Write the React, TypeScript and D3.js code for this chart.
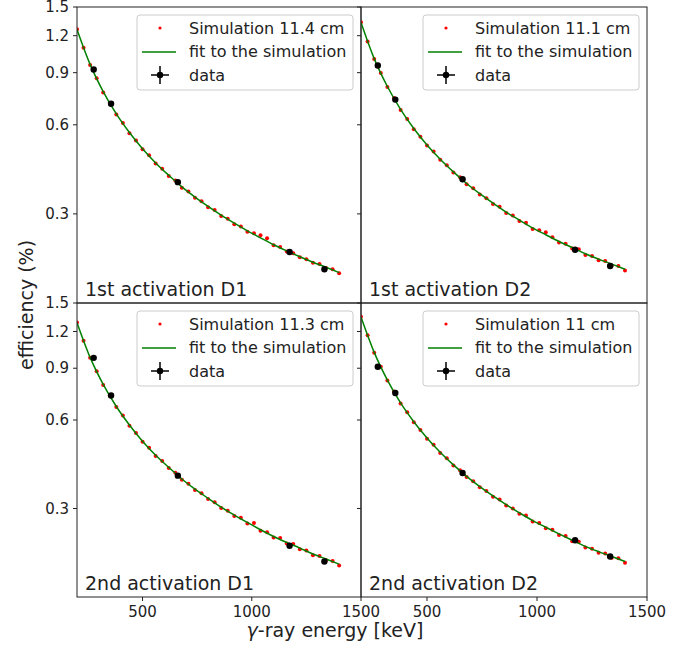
import * as d3 from "d3";

// simulated energies (keV)
const simEnergy = [200, 230, 260, 290, 320, 350, 380, 410, 440, 470, 500, 530, 560, 590, 620, 650, 680, 710, 740, 770, 800, 830, 860, 890, 920, 950, 980, 1010, 1040, 1070, 1100, 1130, 1160, 1190, 1220, 1250, 1280, 1310, 1340, 1370, 1400];

const simD1first = [1.262, 1.093, 0.955, 0.861, 0.772, 0.712, 0.650, 0.608, 0.562, 0.531, 0.496, 0.473, 0.444, 0.426, 0.403, 0.389, 0.368, 0.357, 0.340, 0.331, 0.316, 0.309, 0.295, 0.289, 0.277, 0.272, 0.261, 0.258, 0.254, 0.248, 0.235, 0.232, 0.224, 0.221, 0.214, 0.211, 0.205, 0.203, 0.197, 0.195, 0.189];
const simD2first = [1.332, 1.148, 1.000, 0.898, 0.805, 0.739, 0.673, 0.628, 0.580, 0.547, 0.511, 0.487, 0.457, 0.438, 0.414, 0.399, 0.378, 0.366, 0.349, 0.339, 0.324, 0.317, 0.302, 0.296, 0.284, 0.280, 0.267, 0.264, 0.260, 0.250, 0.240, 0.238, 0.229, 0.228, 0.218, 0.216, 0.209, 0.208, 0.201, 0.200, 0.193];
const simD1second = [1.288, 1.115, 0.976, 0.879, 0.789, 0.727, 0.664, 0.621, 0.574, 0.542, 0.506, 0.483, 0.453, 0.435, 0.412, 0.397, 0.376, 0.364, 0.347, 0.338, 0.323, 0.315, 0.301, 0.295, 0.283, 0.279, 0.267, 0.268, 0.252, 0.249, 0.239, 0.238, 0.228, 0.227, 0.218, 0.216, 0.208, 0.207, 0.200, 0.199, 0.192];
const simD2second = [1.346, 1.165, 1.015, 0.911, 0.817, 0.750, 0.683, 0.637, 0.589, 0.555, 0.518, 0.494, 0.463, 0.445, 0.420, 0.405, 0.384, 0.371, 0.354, 0.344, 0.329, 0.322, 0.307, 0.300, 0.288, 0.284, 0.271, 0.268, 0.257, 0.254, 0.244, 0.242, 0.232, 0.231, 0.221, 0.219, 0.212, 0.211, 0.204, 0.203, 0.196];

// fit curves
const fitEnergy = [200, 260, 320, 380, 440, 500, 560, 620, 680, 740, 800, 860, 920, 980, 1040, 1100, 1160, 1220, 1280, 1340, 1400];
const fitD1first = [1.260, 0.960, 0.777, 0.653, 0.565, 0.498, 0.446, 0.405, 0.370, 0.342, 0.318, 0.297, 0.279, 0.263, 0.249, 0.236, 0.225, 0.215, 0.206, 0.198, 0.190];
const fitD2first = [1.330, 1.004, 0.808, 0.676, 0.583, 0.513, 0.459, 0.416, 0.380, 0.351, 0.326, 0.304, 0.286, 0.269, 0.255, 0.242, 0.231, 0.220, 0.211, 0.203, 0.195];
const fitD1second = [1.286, 0.980, 0.793, 0.667, 0.577, 0.508, 0.455, 0.414, 0.378, 0.349, 0.325, 0.303, 0.285, 0.269, 0.254, 0.241, 0.230, 0.220, 0.210, 0.202, 0.194];
const fitD2second = [1.344, 1.019, 0.820, 0.686, 0.592, 0.521, 0.466, 0.422, 0.386, 0.356, 0.331, 0.309, 0.290, 0.273, 0.259, 0.246, 0.234, 0.223, 0.214, 0.206, 0.198];

// measured points
const dataEnergy = [276.4, 356.0, 661.7, 1173.2, 1332.5];
const dataXErr = [2, 2, 2, 2, 2];
const dataD1first = [0.922, 0.707, 0.384, 0.223, 0.195];
const dataD2first = [0.952, 0.730, 0.393, 0.227, 0.200];
const dataD1second = [0.976, 0.727, 0.388, 0.224, 0.198];
const dataD2second = [0.910, 0.741, 0.396, 0.234, 0.206];
const dataYErr = [0.012, 0.009, 0.005, 0.003, 0.003];

const yTicks = [0.3, 0.6, 0.9, 1.2, 1.5];
const xTicks = [500, 1000, 1500];
const panelLabels = ["1st activation D1", "1st activation D2", "2nd activation D1", "2nd activation D2"];
const simLabels = ["Simulation 11.4 cm", "Simulation 11.1 cm", "Simulation 11.3 cm", "Simulation 11 cm"];

const FONT = "DejaVu Sans, sans-serif";
const cols = [[77, 361], [361, 647]];
const rows = [[7, 303], [303, 597]];

const Panel = (props) => {
  const { col, row, sim, fit, data, label, simLabel } = props;
  const [x0, x1] = cols[col];
  const [y0, y1] = rows[row];
  const x = d3.scaleLinear().domain([200, 1500]).range([x0, x1]);
  const y = d3.scaleLog().domain([0.15, 1.5]).range([y1, y0]);
  const fmt = d3.format(".1f");

  const line = d3.line()
    .x((d) => x(d[0]))
    .y((d) => y(d[1]))
    .curve(d3.curveMonotoneX);
  const fitPath = line(fitEnergy.map((e, i) => [e, fit[i]]));

  const lw = 216, lh = 75;
  const lx = x1 - 8 - lw, ly = y0 + 8;

  return (
    <g>
      <defs>
        <clipPath id={`clip${col}${row}`}>
          <rect x={x0} y={y0} width={x1 - x0} height={y1 - y0} />
        </clipPath>
      </defs>
      <g clipPath={`url(#clip${col}${row})`}>
        {simEnergy.map((e, i) => (
          <circle key={i} cx={x(e)} cy={y(sim[i])} r={2} fill="#ff0000" />
        ))}
        <path d={fitPath} fill="none" stroke="#008000" strokeWidth={1.5} />
        {dataEnergy.map((e, i) => (
          <g key={i}>
            <line x1={x(e)} x2={x(e)} y1={y(data[i] - dataYErr[i])} y2={y(data[i] + dataYErr[i])} stroke="#000" strokeWidth={1.5} />
            <line x1={x(e - dataXErr[i])} x2={x(e + dataXErr[i])} y1={y(data[i])} y2={y(data[i])} stroke="#000" strokeWidth={1.5} />
            <circle cx={x(e)} cy={y(data[i])} r={3.2} fill="#000" />
          </g>
        ))}
      </g>
      <rect x={x0} y={y0} width={x1 - x0} height={y1 - y0} fill="none" stroke="#222" strokeWidth={1} />

      {yTicks.map((t) => (
        <g key={t}>
          <line x1={x0 - 4} x2={x0} y1={y(t)} y2={y(t)} stroke="#222" strokeWidth={1} />
          {col === 0 && (
            <text x={x0 - 8} y={y(t)} dy="0.35em" textAnchor="end" fontSize={15} fontFamily={FONT} fill="#222">
              {fmt(t)}
            </text>
          )}
        </g>
      ))}
      {row === 1 && xTicks.map((t) => (
        <g key={t}>
          <line x1={x(t)} x2={x(t)} y1={y1} y2={y1 + 4} stroke="#222" strokeWidth={1} />
          <text x={x(t)} y={y1 + 20} textAnchor="middle" fontSize={15} fontFamily={FONT} fill="#222">
            {t}
          </text>
        </g>
      ))}

      <text x={x0 + 8} y={y1 - 7} fontSize={19} fontFamily={FONT} fill="#222">{label}</text>

      {/* legend */}
      <rect x={lx} y={ly} width={lw} height={lh} rx={3} fill="#fff" fillOpacity={0.8} stroke="#ccc" strokeWidth={1} />
      <circle cx={lx + 23} cy={ly + 13} r={1.6} fill="#ff0000" />
      <line x1={lx + 5} x2={lx + 39} y1={ly + 37} y2={ly + 37} stroke="#008000" strokeWidth={1.6} />
      <line x1={lx + 14} x2={lx + 32} y1={ly + 60} y2={ly + 60} stroke="#000" strokeWidth={1.5} />
      <line x1={lx + 23} x2={lx + 23} y1={ly + 51} y2={ly + 69} stroke="#000" strokeWidth={1.5} />
      <circle cx={lx + 23} cy={ly + 60} r={3.2} fill="#000" />
      {[simLabel, "fit to the simulation", "data"].map((s, i) => (
        <text key={i} x={lx + 52} y={ly + 13 + i * 23.5} dy="0.35em" fontSize={16} fontFamily={FONT} fill="#222">{s}</text>
      ))}
    </g>
  );
};

export default function App() {
  return (
    <svg width={691} height={649} style={{ position: "absolute", left: 0, top: 0, background: "#fff" }}>
      <rect width={691} height={649} fill="#fff" />
      <Panel col={0} row={0} sim={simD1first} fit={fitD1first} data={dataD1first} label={panelLabels[0]} simLabel={simLabels[0]} />
      <Panel col={1} row={0} sim={simD2first} fit={fitD2first} data={dataD2first} label={panelLabels[1]} simLabel={simLabels[1]} />
      <Panel col={0} row={1} sim={simD1second} fit={fitD1second} data={dataD1second} label={panelLabels[2]} simLabel={simLabels[2]} />
      <Panel col={1} row={1} sim={simD2second} fit={fitD2second} data={dataD2second} label={panelLabels[3]} simLabel={simLabels[3]} />
      <text transform="translate(26,305) rotate(-90)" textAnchor="middle" dy="0.35em" fontSize={19} fontFamily={FONT} fill="#222">
        efficiency (%)
      </text>
      <text x={335} y={637} textAnchor="middle" fontSize={19} fontFamily={FONT} fill="#222">
        <tspan fontStyle="italic">γ</tspan>-ray energy [keV]
      </text>
    </svg>
  );
}
